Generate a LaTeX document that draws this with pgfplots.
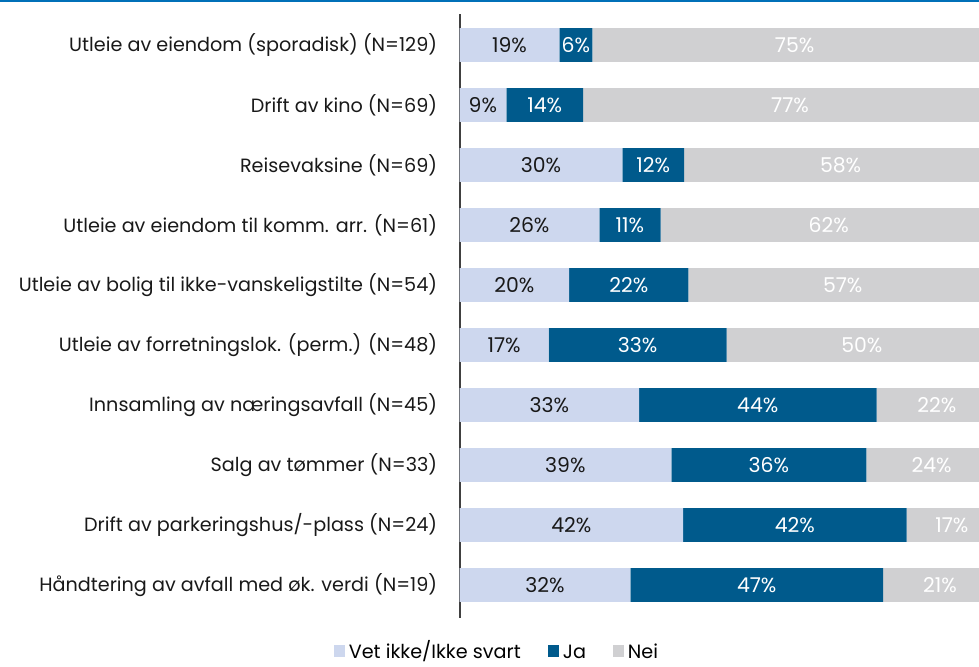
\documentclass[border=0pt]{standalone}
\usepackage{fontspec}
\setmainfont{Poppins}
\usepackage{pgfplots}
\usepackage{pgfplotstable}
\pgfplotsset{compat=1.18}

\definecolor{vetc}{HTML}{CDD7EE}
\definecolor{jac}{HTML}{005A8C}
\definecolor{neic}{HTML}{D0D0D2}
\definecolor{rulec}{HTML}{0070B8}

% one row per category, top to bottom; l* columns are the printed labels
\pgfplotstableread{
idx vet ja nei lvet lja lnei
0 18.6 6.1 75.3 19 6 75
1 8.7 14.3 77.0 9 14 77
2 30.3 11.5 58.2 30 12 58
3 26.0 11.4 62.6 26 11 62
4 20.4 22.2 57.4 20 22 57
5 16.6 33.1 50.3 17 33 50
6 33.4 44.2 22.4 33 44 22
7 39.4 36.3 24.3 39 36 24
8 41.6 41.6 16.8 42 42 17
9 31.8 47.0 21.2 32 47 21
}\shares

\newcommand\lblfont{\fontsize{9.6}{11}\selectfont}
\newcommand\barfont{\fontsize{10.2}{12}\selectfont}

\pgfplotsset{
  seg/.style={fill=#1, draw=none,
    legend image code/.code={\fill[#1] (0pt,-1.75pt) rectangle (5.5pt,4.25pt);}},
  % stacked bars put the node in the middle of each segment
  centred/.style={point meta=explicit symbolic,
    nodes near coords={\pgfplotspointmeta\%},
    every node near coord/.append style={anchor=center, font=\barfont, text=#1}},
}

\begin{document}
\begin{tikzpicture}
\useasboundingbox (0,0) rectangle (489.5pt,333pt);
\clip (0,0) rectangle (489.5pt,333pt);
\draw[rulec, line width=1pt] (0,332.5pt) -- (489.5pt,332.5pt);
\begin{axis}[
  xbar stacked,
  scale only axis,
  width=268.75pt, height=302pt,
  at={(229.75pt,24pt)}, anchor=south west,
  xmin=0, xmax=100,
  ymin=-0.517, ymax=9.55,
  y dir=reverse,
  bar width=16.8pt,
  axis x line=none,
  axis y line*=left,
  y axis line style={black!75, line width=1pt, -},
  ytick={0,...,9},
  yticklabels={
    {Utleie av eiendom (sporadisk) (N=129)},
    {Drift av kino (N=69)},
    {Reisevaksine (N=69)},
    {Utleie av eiendom til komm. arr. (N=61)},
    {Utleie av bolig til ikke-vanskeligstilte (N=54)},
    {Utleie av forretningslok. (perm.) (N=48)},
    {Innsamling av næringsavfall (N=45)},
    {Salg av tømmer (N=33)},
    {Drift av parkeringshus/-plass (N=24)},
    {Håndtering av avfall med øk. verdi (N=19)}},
  major tick length=0pt,
  yticklabel style={font=\lblfont, text=black!90, inner sep=0pt, anchor=east, xshift=-11pt},
  legend columns=3,
  legend style={at={(0.0716,-0.059)}, anchor=center, draw=none, fill=none,
    font=\lblfont, inner sep=0pt,
    nodes={text height=7pt, text depth=2pt},
    /tikz/every even column/.append style={column sep=11.5pt}},
]
\addplot[seg=vetc, centred=black!90] table[x=vet, y=idx, meta=lvet] {\shares};
\addlegendentry{Vet ikke/Ikke svart}
\addplot[seg=jac, centred=white] table[x=ja, y=idx, meta=lja] {\shares};
\addlegendentry{Ja}
\addplot[seg=neic, centred=white] table[x=nei, y=idx, meta=lnei] {\shares};
\addlegendentry{Nei}
\end{axis}
\end{tikzpicture}
\end{document}
